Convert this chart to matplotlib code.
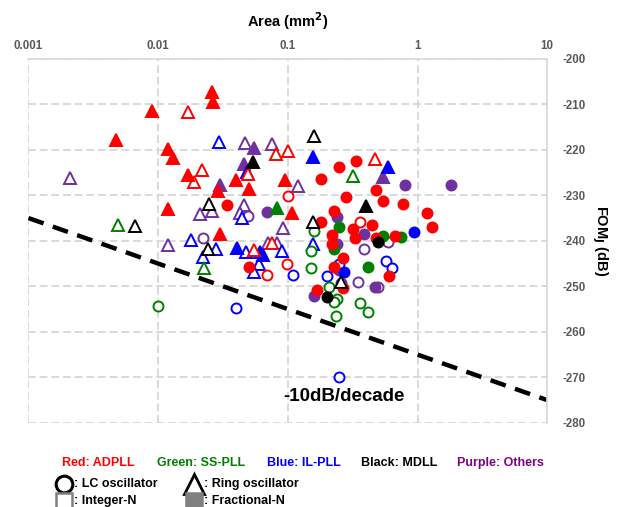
import matplotlib
matplotlib.use("Agg")
import matplotlib.pyplot as plt
from matplotlib.lines import Line2D

plt.rcParams["font.family"] = ["Liberation Sans", "DejaVu Sans"]
plt.rcParams["font.weight"] = "bold"
plt.rcParams["axes.unicode_minus"] = False

# ---- data: area (mm^2) and FOM_J (dB) per architecture / oscillator / divider ----
# ADPLL (red)
adpll_lc_frac_area = [0.181, 0.249, 0.337, 0.282, 0.480, 0.544, 0.776, 1.19, 1.30, 0.228, 0.181, 0.447,
                      0.319, 0.331, 0.220, 0.480, 0.673, 0.220, 0.267, 0.228, 0.267, 0.168, 0.605, 0.034, 0.0503]
adpll_lc_frac_fom = [-226.4, -223.7, -222.4, -230.3, -228.8, -231.2, -231.9, -233.8, -236.9, -233.4, -235.8, -236.5,
                     -237.4, -239.3, -238.7, -239.3, -238.9, -240.7, -243.7, -245.7, -250.3, -250.8, -247.7, -232.1, -245.7]
adpll_lc_int_area = [0.361, 0.1005, 0.0988, 0.0692]
adpll_lc_int_fom = [-235.8, -230.1, -245.1, -247.5]
adpll_ro_frac_area = [0.0261, 0.0265, 0.00897, 0.00473, 0.0119, 0.0130, 0.0170, 0.0119, 0.0290, 0.0301,
                      0.0399, 0.0503, 0.0953, 0.108]
adpll_ro_frac_fom = [-207.3, -209.5, -211.4, -217.8, -219.8, -221.8, -225.5, -233.0, -229.0, -238.5,
                     -226.6, -228.6, -226.6, -233.8]
adpll_ro_int_area = [0.0170, 0.0218, 0.0189, 0.0813, 0.1005, 0.0494, 0.0550, 0.0757, 0.472]
adpll_ro_int_fom = [-211.6, -224.4, -227.0, -220.9, -220.2, -225.3, -242.0, -240.4, -222.0]

# SS-PLL (green)
sspll_lc_frac_area = [0.249, 0.544, 0.748, 0.228, 0.417]
sspll_lc_frac_fom = [-236.9, -238.9, -239.1, -241.8, -245.7]
sspll_lc_int_area = [0.160, 0.151, 0.151, 0.208, 0.240, 0.228, 0.236, 0.361, 0.417, 0.0100]
sspll_lc_int_fom = [-237.8, -242.2, -245.9, -250.1, -252.7, -253.4, -256.5, -253.6, -255.6, -254.3]
sspll_ro_frac_area = [0.0826]
sspll_ro_frac_fom = [-232.7]
sspll_ro_int_area = [0.00491, 0.0226, 0.319]
sspll_ro_int_fom = [-236.5, -245.9, -225.7]

# IL-PLL (blue)
ilpll_lc_frac_area = [0.944, 0.272]
ilpll_lc_frac_fom = [-238.0, -246.8]
ilpll_lc_int_area = [0.0399, 0.110, 0.201, 0.249, 0.573, 0.638, 0.249]
ilpll_lc_int_fom = [-254.7, -247.5, -247.7, -245.1, -244.4, -245.9, -269.9]
ilpll_ro_frac_area = [0.157, 0.594, 0.0485, 0.0406, 0.0611, 0.0645]
ilpll_ro_frac_fom = [-221.5, -223.7, -224.8, -241.5, -242.4, -243.1]
ilpll_ro_int_area = [0.0295, 0.0179, 0.0280, 0.0222, 0.0477, 0.0601, 0.0550, 0.0904, 0.157, 0.0444]
ilpll_ro_int_fom = [-218.2, -239.8, -241.8, -243.5, -242.4, -245.1, -246.8, -242.2, -240.7, -234.9]

# MDLL (black)
mdll_lc_frac_area = [0.498, 0.201]
mdll_lc_frac_fom = [-240.2, -252.3]
mdll_ro_frac_area = [0.0540, 0.402]
mdll_ro_frac_fom = [-222.6, -232.3]
mdll_ro_int_area = [0.160, 0.0247, 0.00664, 0.0243, 0.157, 0.258]
mdll_ro_int_fom = [-216.9, -231.9, -236.7, -241.8, -235.8, -249.0]

# Others (purple)
other_lc_frac_area = [0.804, 1.82, 0.0692, 0.240, 0.388, 0.240, 0.249, 0.472, 0.160]
other_lc_frac_fom = [-227.7, -227.7, -233.6, -234.7, -238.5, -240.7, -246.4, -250.1, -252.1]
other_lc_int_area = [0.0222, 0.0494, 0.594, 0.388, 0.349, 0.498, 0.258]
other_lc_int_fom = [-239.3, -234.5, -240.2, -241.8, -249.0, -250.1, -249.2]
other_ro_frac_area = [0.0301, 0.0550, 0.0460, 0.544]
other_ro_frac_fom = [-227.7, -219.6, -223.1, -225.9]
other_ro_int_area = [0.00209, 0.0469, 0.0757, 0.120, 0.0211, 0.0261, 0.0460, 0.0429, 0.0119, 0.0705, 0.0826, 0.0920]
other_ro_int_fom = [-226.2, -218.5, -218.7, -227.9, -234.1, -233.4, -232.1, -233.8, -240.9, -240.4, -240.4, -237.1]

# -10 dB/decade reference line
ref_area = [0.001, 10]
ref_fom = [-235, -275]

RED, GREEN, BLUE, BLACK, PURPLE = "#ff0000", "#008000", "#0000ff", "#000000", "#7030a0"

series = [
    (other_ro_int_area, other_ro_int_fom, PURPLE, "^", False),
    (other_ro_frac_area, other_ro_frac_fom, PURPLE, "^", True),
    (other_lc_int_area, other_lc_int_fom, PURPLE, "o", False),
    (other_lc_frac_area, other_lc_frac_fom, PURPLE, "o", True),
    (ilpll_ro_int_area, ilpll_ro_int_fom, BLUE, "^", False),
    (ilpll_ro_frac_area, ilpll_ro_frac_fom, BLUE, "^", True),
    (ilpll_lc_int_area, ilpll_lc_int_fom, BLUE, "o", False),
    (ilpll_lc_frac_area, ilpll_lc_frac_fom, BLUE, "o", True),
    (sspll_ro_int_area, sspll_ro_int_fom, GREEN, "^", False),
    (sspll_ro_frac_area, sspll_ro_frac_fom, GREEN, "^", True),
    (sspll_lc_int_area, sspll_lc_int_fom, GREEN, "o", False),
    (sspll_lc_frac_area, sspll_lc_frac_fom, GREEN, "o", True),
    (adpll_ro_int_area, adpll_ro_int_fom, RED, "^", False),
    (adpll_ro_frac_area, adpll_ro_frac_fom, RED, "^", True),
    (adpll_lc_int_area, adpll_lc_int_fom, RED, "o", False),
    (adpll_lc_frac_area, adpll_lc_frac_fom, RED, "o", True),
    (mdll_ro_int_area, mdll_ro_int_fom, BLACK, "^", False),
    (mdll_ro_frac_area, mdll_ro_frac_fom, BLACK, "^", True),
    (mdll_lc_frac_area, mdll_lc_frac_fom, BLACK, "o", True),
]

fig = plt.figure(figsize=(6.19, 5.07), dpi=100)
ax = fig.add_axes([0.046, 0.166, 0.838, 0.718])

ax.plot(ref_area, ref_fom, color="black", lw=3.2, ls=(0, (3.6, 2.2)), zorder=2)

for xs, ys, col, mk, filled in series:
    ms = 7.2 if mk == "o" else 8.0
    ax.plot(xs, ys, ls="none", marker=mk, ms=ms, mec=col, mew=1.4,
            mfc=col if filled else "white", zorder=3)

ax.set_xscale("log")
ax.set_xlim(0.001, 10)
ax.set_ylim(-280, -200)
ax.set_yticks(range(-280, -199, 10))
ax.set_xticks([0.001, 0.01, 0.1, 1, 10])
ax.set_xticklabels(["0.001", "0.01", "0.1", "1", "10"])
ax.minorticks_off()

ax.xaxis.tick_top()
ax.xaxis.set_label_position("top")
ax.yaxis.tick_right()
ax.yaxis.set_label_position("right")
ax.tick_params(length=0, labelsize=8.3, labelcolor="#595959")
ax.tick_params(axis="x", pad=5)
ax.tick_params(axis="y", pad=11)
for lab in ax.get_xticklabels() + ax.get_yticklabels():
    lab.set_fontweight("bold")

ax.grid(True, color="#d9d9d9", ls=(0, (4, 2)), lw=1.4)
for side in ["left", "bottom"]:
    ax.spines[side].set_visible(False)
for side in ["top", "right"]:
    ax.spines[side].set_color("#d9d9d9")
    ax.spines[side].set_linewidth(1.2)

ax.set_xlabel("Area (mm$^\\mathbf{2}$)", fontsize=10.5, fontweight="bold", labelpad=9)
ax.set_ylabel("FOM$_\\mathbf{J}$ (dB)", fontsize=10.5, fontweight="bold", rotation=270, labelpad=17)

ax.text(0.092, -274.3, "-10dB/decade", fontsize=13.5, fontweight="bold", ha="left", va="center")

# legend text beneath the axes
legend_items = [("Red: ADPLL", RED, 0.100), ("Green: SS-PLL", GREEN, 0.253),
                ("Blue: IL-PLL", BLUE, 0.431), ("Black: MDLL", BLACK, 0.584),
                ("Purple: Others", "#800080", 0.738)]
for label, col, xpos in legend_items:
    fig.text(xpos, 0.087, label, color=col, fontsize=9, fontweight="bold", va="center")

row2, row3 = 0.046, 0.012
sym = [(0.103, row2, "o", "white", "black", 12, 2.2),
       (0.313, row2, "^", "white", "black", 15, 2.0),
       (0.103, row3, "s", "white", "#808080", 11, 1.8),
       (0.313, row3, "s", "#808080", "#808080", 11, 1.8)]
for x, y, mk, fc, ec, ms, mew in sym:
    fig.add_artist(Line2D([x], [y], marker=mk, ms=ms, mfc=fc, mec=ec, mew=mew,
                          transform=fig.transFigure, ls="none"))

fig.text(0.120, row2, ": LC oscillator", fontsize=9, fontweight="bold", va="center")
fig.text(0.330, row2, ": Ring oscillator", fontsize=9, fontweight="bold", va="center")
fig.text(0.120, row3, ": Integer-N", fontsize=9, fontweight="bold", va="center")
fig.text(0.330, row3, ": Fractional-N", fontsize=9, fontweight="bold", va="center")

fig.savefig("out.png", dpi=100)
